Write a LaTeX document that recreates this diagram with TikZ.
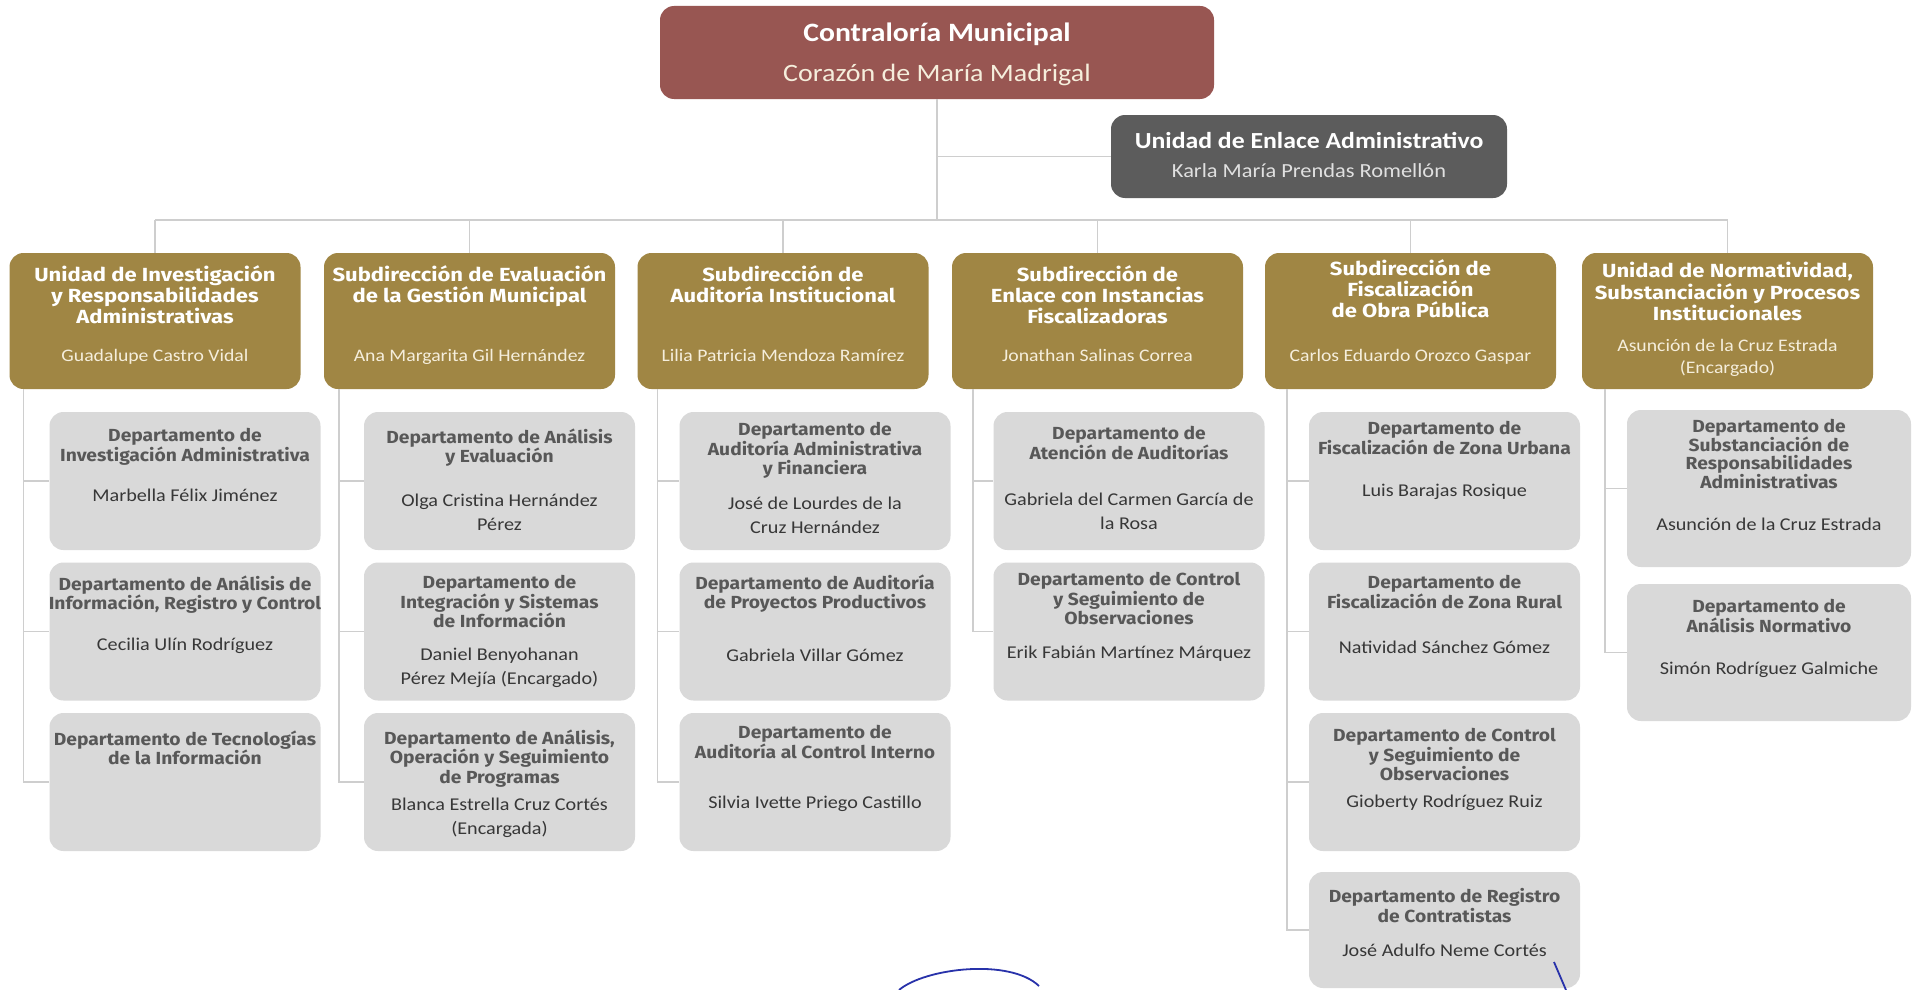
\documentclass[tikz,border=0pt]{standalone}
\usepackage{fontspec}
\newfontfamily\cf{Carlito}[FakeStretch=1.12]
\newfontfamily\tfg{Fira Sans}[FakeStretch=1.16]
\newfontfamily\tfd{Fira Sans}[FakeStretch=1.10]
\definecolor{maroon}{RGB}{152,86,82}
\definecolor{darkbox}{RGB}{92,92,92}
\definecolor{goldbox}{RGB}{160,134,68}
\definecolor{graybox}{RGB}{217,217,217}
\definecolor{linec}{RGB}{206,206,206}
\definecolor{cream}{RGB}{245,238,220}
\definecolor{dtext}{RGB}{88,88,88}
\definecolor{ntext}{RGB}{55,55,55}
\definecolor{inkblue}{RGB}{40,50,170}
\newcommand\fstrut{\rule{0pt}{1em}}
\newcommand\dept[7]{%
  \node[dbox] (#1) at (#2,#3) {};
  \node[dt] (#1t) at (#2,#5) {#4};
  \node[dn] (#1n) at (#2,#7) {#6};}
\newcommand\gunit[6]{%
  \node[gbox] (#1) at (#2,321) {};
  \node[gt] (#1t) at (#2,#4) {#3};
  \node[gn] (#1n) at (#2,#6) {#5};}
\begin{document}
\begin{tikzpicture}[x=1pt,y=-1pt,
  conn/.style={draw=linec,line width=1.6pt},
  boxbase/.style={rounded corners=14pt,inner sep=0pt,draw=none},
  topbox/.style={boxbase,fill=maroon,minimum width=554pt,minimum height=93pt},
  enlbox/.style={boxbase,fill=darkbox,minimum width=396pt,minimum height=83pt},
  gbox/.style={boxbase,fill=goldbox,minimum width=291pt,minimum height=136pt},
  dbox/.style={boxbase,fill=graybox,minimum width=271pt,minimum height=138pt},
  txt/.style={inner sep=0pt,align=center,anchor=north,execute at begin node=\fstrut},
  gt/.style={txt,font=\tfg\bfseries\fontsize{19}{21.3}\selectfont,text=white,yshift=8.7pt},
  gn/.style={txt,font=\cf\fontsize{17.6}{22}\selectfont,text=cream,yshift=11.8pt},
  dt/.style={txt,font=\tfd\bfseries\fontsize{17.5}{19.5}\selectfont,text=dtext,yshift=5.7pt},
  dn/.style={txt,font=\cf\fontsize{18}{24}\selectfont,text=ntext,yshift=12pt}]
\fill[white] (0,0) rectangle (1917,990);
\useasboundingbox (0,0) rectangle (1917,990);

% top level
\node[topbox] (top) at (937,52.5) {};
\node[txt,font=\cf\bfseries\fontsize{26.5}{30}\selectfont,text=white,yshift=16.5pt] (topt) at (937,31) {Contraloría Municipal};
\node[txt,font=\cf\fontsize{25}{29}\selectfont,text=cream,yshift=15.5pt] (topn) at (937,72) {Corazón de María Madrigal};

\node[enlbox] (enl) at (1309,156.5) {};
\node[txt,font=\cf\bfseries\fontsize{23}{27}\selectfont,text=white,yshift=14.2pt] (enlt) at (1309,139) {Unidad de Enlace Administrativo};
\node[txt,font=\cf\fontsize{20}{24}\selectfont,text=white!88!black,yshift=12.2pt] (enln) at (1309,169) {Karla María Prendas Romellón};

% second level
\gunit{g1}{155}{Unidad de Investigación\\y Responsabilidades\\Administrativas}{274}{Guadalupe Castro Vidal}{355}
\gunit{g2}{469.5}{Subdirección de Evaluación\\de la Gestión Municipal}{274}{Ana Margarita Gil Hernández}{355}
\gunit{g3}{783}{Subdirección de\\Auditoría Institucional}{274}{Lilia Patricia Mendoza Ramírez}{355}
\gunit{g4}{1097.5}{Subdirección de\\Enlace con Instancias\\Fiscalizadoras}{274}{Jonathan Salinas Correa}{355}
\gunit{g5}{1410.5}{Subdirección de\\Fiscalización\\de Obra Pública}{268}{Carlos Eduardo Orozco Gaspar}{355}
\gunit{g6}{1727.5}{Unidad de Normatividad,\\Substanciación y Procesos\\Institucionales}{271}{Asunción de la Cruz Estrada\\(Encargado)}{351}

% departments
\dept{d11}{185}{481}{Departamento de\\Investigación Administrativa}{434}{Marbella Félix Jiménez}{495}
\dept{d12}{185}{631.5}{Departamento de Análisis de\\Información, Registro y Control}{581}{Cecilia Ulín Rodríguez}{644}
\node[dbox] (d13) at (185,782) {};
\node[dt] (d13t) at (185,736) {Departamento de Tecnologías\\de la Información};

\dept{d21}{499.5}{481}{Departamento de Análisis\\y Evaluación}{434}{Olga Cristina Hernández\\Pérez}{505.5}
\dept{d22}{499.5}{631.5}{Departamento de\\Integración y Sistemas\\de Información}{581}{Daniel Benyohanan\\Pérez Mejía (Encargado)}{659.5}
\dept{d23}{499.5}{782}{Departamento de Análisis,\\Operación y Seguimiento\\de Programas}{735}{Blanca Estrella Cruz Cortés\\(Encargada)}{809.5}

\dept{d31}{815}{481}{Departamento de\\Auditoría Administrativa\\y Financiera}{428}{José de Lourdes de la\\Cruz Hernández}{508.5}
\dept{d32}{815}{631.5}{Departamento de Auditoría\\de Proyectos Productivos}{580}{Gabriela Villar Gómez}{655}
\dept{d33}{815}{782}{Departamento de\\Auditoría al Control Interno}{731}{Silvia Ivette Priego Castillo}{802}

\dept{d41}{1129}{481}{Departamento de\\Atención de Auditorías}{432}{Gabriela del Carmen García de\\la Rosa}{504.5}
\dept{d42}{1129}{631.5}{Departamento de Control\\y Seguimiento de\\Observaciones}{578}{Erik Fabián Martínez Márquez}{652}

\dept{d51}{1444.5}{481}{Departamento de\\Fiscalización de Zona Urbana}{427}{Luis Barajas Rosique}{490}
\dept{d52}{1444.5}{631.5}{Departamento de\\Fiscalización de Zona Rural}{581}{Natividad Sánchez Gómez}{647}
\dept{d53}{1444.5}{782}{Departamento de Control\\y Seguimiento de\\Observaciones}{734}{Gioberty Rodríguez Ruiz}{801}
\node[dbox,minimum height=116pt] (d54) at (1444.5,930) {};
\node[dt] (d54t) at (1444.5,894) {Departamento de Registro\\de Contratistas};
\node[dn] (d54n) at (1444.5,950) {José Adulfo Neme Cortés};

\node[dbox,minimum width=284pt,minimum height=157pt] (d61) at (1769,488.5) {};
\node[dt,font=\tfd\bfseries\fontsize{17.5}{18.5}\selectfont] (d61t) at (1769,425) {Departamento de\\Substanciación de\\Responsabilidades\\Administrativas};
\node[dn] (d61n) at (1769,524) {Asunción de la Cruz Estrada};
\node[dbox,minimum width=284pt,minimum height=137pt] (d62) at (1769,652.5) {};
\node[dt] (d62t) at (1769,605) {Departamento de\\Análisis Normativo};
\node[dn] (d62n) at (1769,668) {Simón Rodríguez Galmiche};

% connectors
\coordinate (bus) at (937,220);
\draw[conn] (top.south) -- (bus);
\draw[conn] (top.south |- enl.west) -- (enl.west);
\draw[conn] (g1.north |- bus) -- (g6.north |- bus);
\foreach \g in {g1,g2,g3,g4,g5,g6}{\draw[conn] (\g.north |- bus) -- (\g.north);}
\path (g1.south west) ++(14,0) coordinate (v1);
\path (g2.south west) ++(15,0) coordinate (v2);
\path (g3.south west) ++(20,0) coordinate (v3);
\path (g4.south west) ++(21,0) coordinate (v4);
\path (g5.south west) ++(22,0) coordinate (v5);
\path (g6.south west) ++(23,0) coordinate (v6);
\draw[conn] (v1) |- (d11.west) (v1) |- (d12.west) (v1) |- (d13.west);
\draw[conn] (v2) |- (d21.west) (v2) |- (d22.west) (v2) |- (d23.west);
\draw[conn] (v3) |- (d31.west) (v3) |- (d32.west) (v3) |- (d33.west);
\draw[conn] (v4) |- (d41.west) (v4) |- (d42.west);
\draw[conn] (v5) |- (d51.west) (v5) |- (d52.west) (v5) |- (d53.west) (v5) |- (d54.west);
\draw[conn] (v6) |- (d61.west) (v6) |- (d62.west);

% pen marks
\draw[inkblue,line width=1.8pt] (899,990) .. controls (925,968) and (1010,958) .. (1039,986);
\draw[inkblue,line width=1.8pt] (1554,962) -- (1566,990);
\end{tikzpicture}
\end{document}
